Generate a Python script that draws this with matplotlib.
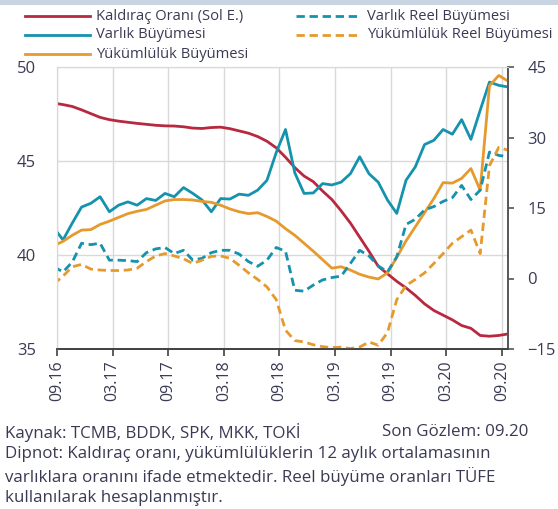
import numpy as np
import matplotlib
matplotlib.use("Agg")
import matplotlib.pyplot as plt
from matplotlib.patches import Rectangle
from matplotlib.lines import Line2D

plt.rcParams['font.family'] = ['Open Sans', 'DejaVu Sans']

# ---- data (monthly, 08.16 .. 09.20) ----
tick_labels = ["09.16", "03.17", "09.17", "03.18", "09.18", "03.19", "09.19", "03.20", "09.20"]

kaldirac = [48.08, 48.0, 47.9, 47.72, 47.52, 47.32, 47.2, 47.12, 47.06, 47.0,
            46.95, 46.9, 46.87, 46.86, 46.82, 46.75, 46.73, 46.78, 46.8, 46.72,
            46.6, 46.48, 46.3, 46.05, 45.7, 45.2, 44.65, 44.2, 43.9, 43.4,
            42.95, 42.35, 41.7, 40.95, 40.2, 39.4, 39.0, 38.6, 38.25, 37.85,
            37.4, 37.05, 36.8, 36.55, 36.25, 36.1, 35.72, 35.68, 35.72, 35.8]

varlik = [10.8, 8.2, 11.8, 15.2, 16.0, 17.4, 14.2, 15.6, 16.3, 15.6,
          17.0, 16.6, 18.1, 17.4, 19.35, 18.1, 16.7, 14.2, 17.0, 16.9,
          17.95, 17.7, 18.8, 20.9, 26.8, 31.7, 22.5, 18.1, 18.2, 20.2,
          19.9, 20.5, 22.3, 25.9, 22.3, 20.5, 16.7, 13.85, 20.9, 23.75,
          28.5, 29.4, 31.7, 30.7, 33.8, 29.6, 35.8, 41.8, 41.1, 40.75]

yukumluluk = [7.0, 7.9, 9.2, 10.3, 10.4, 11.5, 12.2, 13.0, 13.8, 14.3,
              14.7, 15.6, 16.5, 16.8, 16.8, 16.7, 16.4, 16.2, 15.6, 14.8,
              14.2, 13.8, 14.0, 13.2, 12.2, 10.6, 9.2, 7.5, 5.8, 4.0,
              2.2, 2.5, 1.8, 0.9, 0.3, -0.1, 1.2, 4.5, 8.0, 11.0,
              14.0, 17.0, 20.4, 20.3, 21.3, 23.4, 18.8, 41.0, 43.2, 42.0]

varlik_reel = [2.5, 1.4, 3.5, 7.5, 7.2, 7.5, 3.9, 3.9, 3.8, 3.6,
               5.5, 6.3, 6.6, 5.3, 6.0, 3.9, 4.3, 5.5, 6.0, 6.0,
               5.2, 3.6, 2.6, 3.9, 6.6, 5.8, -2.5, -2.7, -1.4, -0.3,
               0.2, 0.5, 3.2, 6.0, 4.8, 2.7, 1.4, 4.6, 11.5, 12.6,
               14.6, 15.3, 16.4, 17.2, 19.8, 16.8, 18.8, 26.9, 26.2, 25.9]

yukumluluk_reel = [-1.2, 0.5, 2.5, 3.0, 2.0, 1.8, 1.7, 1.7, 1.8, 2.2,
                   3.6, 4.8, 5.3, 4.8, 4.2, 3.2, 3.9, 4.7, 4.8, 4.3,
                   2.8, 1.2, -0.2, -1.8, -4.5, -11.0, -13.2, -13.5, -14.1, -14.5,
                   -14.7, -14.6, -14.9, -14.6, -13.5, -14.2, -11.5, -4.5, -1.5, -0.2,
                   1.2, 3.2, 5.3, 7.5, 8.9, 10.3, 5.3, 24.0, 27.9, 27.3]

RED = '#B8283F'
TEAL = '#1592AE'
ORANGE = '#E69A2E'
TXT = '#3a3a55'

W, H = 558, 509
def fx(px):
    return px / W
def fy(py):
    return 1 - py / H

x = np.arange(len(kaldirac)) - 0.35

fig = plt.figure(figsize=(W / 100, H / 100), dpi=100)
fig.add_artist(Rectangle((0, fy(5)), 1, 5 / H, transform=fig.transFigure,
                         facecolor='#C8D4E2', edgecolor='none'))

ax = fig.add_axes([fx(57), fy(349), (508 - 57) / W, (349 - 67) / H])
ax2 = ax.twinx()

lw = 2.0
DASH = (3, 1.7)
l_red, = ax.plot(x, kaldirac, color=RED, lw=lw)
l_var, = ax2.plot(x, varlik, color=TEAL, lw=lw)
l_yuk, = ax2.plot(x, yukumluluk, color=ORANGE, lw=lw)
l_vr, = ax2.plot(x, varlik_reel, color=TEAL, lw=lw, dashes=DASH)
l_yr, = ax2.plot(x, yukumluluk_reel, color=ORANGE, lw=lw, dashes=DASH)

ax.set_xlim(0, 48.65)
ax.set_ylim(35, 50)
ax2.set_ylim(-15, 45)
ax.set_yticks([35, 40, 45, 50])
ax2.set_yticks([-15, 0, 15, 30, 45])
ax.set_xticks(np.arange(0, 49, 6))
ax.set_xticklabels(tick_labels, rotation=90)

ax.grid(True, color='#D9D9D9', lw=1.0)
ax.set_axisbelow(True)

for a in (ax, ax2):
    a.spines['top'].set_color('#D9D9D9')
    a.spines['left'].set_color('#D9D9D9')
    a.spines['bottom'].set_color('#404040')
    a.spines['right'].set_color('#555555')
    a.spines['bottom'].set_linewidth(1.2)
    a.spines['right'].set_linewidth(1.2)

ax.tick_params(axis='y', length=0, pad=15, labelsize=12, labelcolor=TXT)
ax.tick_params(axis='x', direction='out', length=5, width=1.2, color='#404040',
               pad=3, labelsize=11.5, labelcolor=TXT)
ax2.tick_params(axis='y', direction='out', length=4, width=1.2, color='#555555',
                pad=10, labelsize=12, labelcolor=TXT)

# ---- legend (two columns, drawn in figure coordinates) ----
leg_items = [
    (l_red, "Kaldıraç Oranı (Sol E.)", 25, 90, 96, 16),
    (l_var, "Varlık Büyümesi", 25, 90, 96, 35),
    (l_yuk, "Yükümlülük Büyümesi", 25, 90, 96, 54),
    (l_vr, "Varlık Reel Büyümesi", 296, 361, 367, 16),
    (l_yr, "Yükümlülük Reel Büyümesi", 296, 361, 367, 35),
]
for line, label, x0, x1, xt, yy in leg_items:
    h = Line2D([fx(x0), fx(x1)], [fy(yy), fy(yy)], transform=fig.transFigure,
               color=line.get_color(), lw=lw)
    if line.get_linestyle() != '-':
        h.set_dashes(DASH)
    fig.add_artist(h)
    fig.text(fx(xt), fy(yy), label, fontsize=10.6, color=TXT, va='center', ha='left')

fs = 12.2
fig.text(fx(5), fy(432), "Kaynak: TCMB, BDDK, SPK, MKK, TOKİ", fontsize=fs,
         color=TXT, va='center', ha='left')
fig.text(fx(528), fy(432), "Son Gözlem: 09.20", fontsize=fs,
         color=TXT, va='center', ha='right')
fig.text(fx(5), fy(454),
         "Dipnot: Kaldıraç oranı, yükümlülüklerin 12 aylık ortalamasının",
         fontsize=fs, color=TXT, va='center', ha='left')
fig.text(fx(5), fy(477),
         "varlıklara oranını ifade etmektedir. Reel büyüme oranları TÜFE",
         fontsize=fs, color=TXT, va='center', ha='left')
fig.text(fx(5), fy(498), "kullanılarak hesaplanmıştır.",
         fontsize=fs, color=TXT, va='center', ha='left')

fig.savefig("out.png", dpi=100)
